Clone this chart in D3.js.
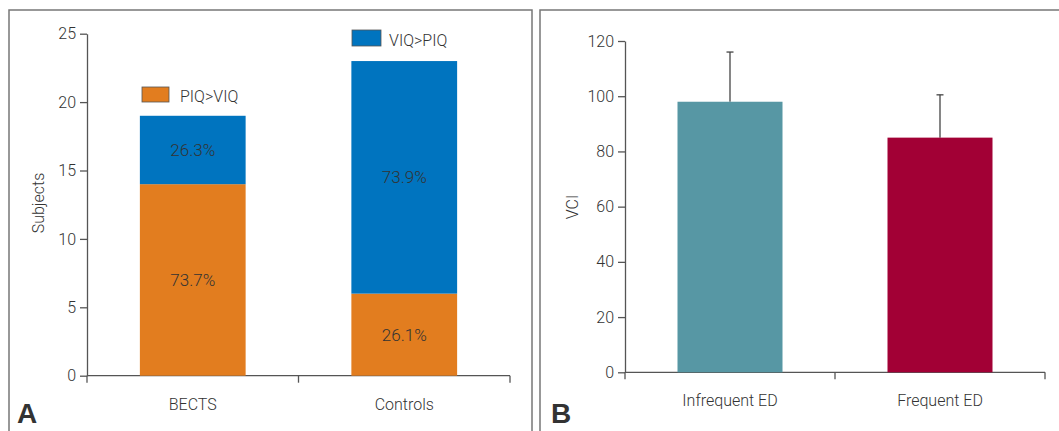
<!DOCTYPE html>
<html><head><meta charset="utf-8">
<script src="https://cdn.jsdelivr.net/npm/d3@7"></script>
<style>
body{margin:0;background:#fff;}
svg text{font-family:Roboto,"Noto Sans",sans-serif;fill:#333;font-weight:300;}
</style></head>
<body><svg id="c" width="1059" height="431"></svg>
<script>
// Panel A data
const groupsA = ["BECTS","Controls"];
const piqGtViq = [14, 6];
const viqGtPiq = [5, 17];
const pctPiq = ["73.7%","26.1%"];
const pctViq = ["26.3%","73.9%"];
const ticksA = [0,5,10,15,20,25];
// Panel B data
const groupsB = ["Infrequent ED","Frequent ED"];
const vciMean = [98, 85];
const vciErr = [18, 15.5];
const ticksB = [0,20,40,60,80,100,120];

const colOrange = "#E27D1F", colBlue = "#0074BF", colTeal = "#5797A4", colRed = "#A20035";
const axisCol = "#555";
const FONT = "Roboto,'Noto Sans',sans-serif";
const svg = d3.select("#c");

// frames
svg.append("rect").attr("x",9).attr("y",10).attr("width",523).attr("height",440)
  .attr("fill","none").attr("stroke","#777").attr("stroke-width",1.5);
svg.append("rect").attr("x",540).attr("y",10).attr("width",540).attr("height",440)
  .attr("fill","none").attr("stroke","#777").attr("stroke-width",1.5);

function styleAxis(g){
  g.selectAll("path,line").attr("stroke",axisCol).attr("stroke-width",1.3);
  g.selectAll("text").attr("fill","#333").style("font-size","16px").style("font-family",FONT).style("font-weight","300");
}

// ---- Panel A ----
const xA = d3.scaleBand().domain(groupsA).range([87,510]).paddingInner(0).paddingOuter(0);
const yA = d3.scaleLinear().domain([0,25]).range([375.7,33.7]);
const gA = svg.append("g");
const yAxA = gA.append("g").attr("transform","translate(87,0)")
  .call(d3.axisLeft(yA).tickValues(ticksA).tickSize(7).tickPadding(4).tickSizeOuter(0));
styleAxis(yAxA);
const bA = [xA.range()[0], xA(groupsA[1]), xA.range()[1]];
gA.append("line").attr("x1",bA[0]).attr("x2",bA[2]).attr("y1",yA(0)).attr("y2",yA(0))
  .attr("stroke",axisCol).attr("stroke-width",1.3);
gA.selectAll(".bt").data(bA).enter().append("line")
  .attr("x1",d=>d).attr("x2",d=>d).attr("y1",yA(0)).attr("y2",yA(0)+7)
  .attr("stroke",axisCol).attr("stroke-width",1.3);
const bwA = xA.bandwidth()/2;
groupsA.forEach((g,i)=>{
  const x0 = xA(g)+xA.bandwidth()/4;
  gA.append("rect").attr("x",x0).attr("width",bwA)
    .attr("y",yA(piqGtViq[i])).attr("height",yA(0)-yA(piqGtViq[i])).attr("fill",colOrange);
  gA.append("rect").attr("x",x0).attr("width",bwA)
    .attr("y",yA(piqGtViq[i]+viqGtPiq[i])).attr("height",yA(piqGtViq[i])-yA(piqGtViq[i]+viqGtPiq[i])).attr("fill",colBlue);
  const cx = xA(g)+xA.bandwidth()/2;
  gA.append("text").attr("x",cx).attr("y",(yA(0)+yA(piqGtViq[i]))/2+6)
    .attr("text-anchor","middle").style("font-size","17px").attr("fill","#2a2a2a").text(pctPiq[i]);
  gA.append("text").attr("x",cx).attr("y",(yA(piqGtViq[i])+yA(piqGtViq[i]+viqGtPiq[i]))/2+6)
    .attr("text-anchor","middle").style("font-size","17px").attr("fill","#2a2a2a").text(pctViq[i]);
  gA.append("text").attr("x",cx).attr("y",410).attr("text-anchor","middle")
    .style("font-size","16px").text(g);
});
// legends
gA.append("rect").attr("x",142).attr("y",87).attr("width",27).attr("height",15)
  .attr("fill",colOrange).attr("stroke","#555").attr("stroke-width",0.8);
gA.append("text").attr("x",180).attr("y",102).style("font-size","16px").text("PIQ>VIQ");
gA.append("rect").attr("x",352).attr("y",30).attr("width",29).attr("height",16)
  .attr("fill",colBlue).attr("stroke","#555").attr("stroke-width",0.8);
gA.append("text").attr("x",389).attr("y",46).style("font-size","16px").text("VIQ>PIQ");
gA.append("text").attr("transform","translate(44,203) rotate(-90)").attr("text-anchor","middle")
  .style("font-size","16px").text("Subjects");
gA.append("text").attr("x",17).attr("y",423).style("font-size","28px").style("font-weight","bold")
  .style("font-family","'Liberation Sans',Arial,sans-serif").attr("fill","#111").text("A");

// ---- Panel B ----
const xB = d3.scaleBand().domain(groupsB).range([625,1045]).paddingInner(0).paddingOuter(0);
const yB = d3.scaleLinear().domain([0,120]).range([372.3,41]);
const gB = svg.append("g");
const yAxB = gB.append("g").attr("transform","translate(625,0)")
  .call(d3.axisLeft(yB).tickValues(ticksB).tickSize(7).tickPadding(4).tickSizeOuter(0));
styleAxis(yAxB);
const bB = [xB.range()[0], xB(groupsB[1]), xB.range()[1]];
gB.append("line").attr("x1",bB[0]).attr("x2",bB[2]).attr("y1",yB(0)).attr("y2",yB(0))
  .attr("stroke",axisCol).attr("stroke-width",1.3);
gB.selectAll(".bt").data(bB).enter().append("line")
  .attr("x1",d=>d).attr("x2",d=>d).attr("y1",yB(0)).attr("y2",yB(0)+7)
  .attr("stroke",axisCol).attr("stroke-width",1.3);
const colsB = [colTeal, colRed];
groupsB.forEach((g,i)=>{
  const x0 = xB(g)+xB.bandwidth()/4, cx = xB(g)+xB.bandwidth()/2;
  gB.append("line").attr("x1",cx).attr("x2",cx).attr("y1",yB(vciMean[i])).attr("y2",yB(vciMean[i]+vciErr[i]))
    .attr("stroke","#444").attr("stroke-width",1.3);
  gB.append("line").attr("x1",cx-3.5).attr("x2",cx+3.5).attr("y1",yB(vciMean[i]+vciErr[i])).attr("y2",yB(vciMean[i]+vciErr[i]))
    .attr("stroke","#444").attr("stroke-width",1.3);
  gB.append("rect").attr("x",x0).attr("width",xB.bandwidth()/2)
    .attr("y",yB(vciMean[i])).attr("height",yB(0)-yB(vciMean[i])).attr("fill",colsB[i]);
  gB.append("text").attr("x",cx).attr("y",406).attr("text-anchor","middle")
    .style("font-size","16px").text(g);
});
gB.append("text").attr("transform","translate(578,207) rotate(-90)").attr("text-anchor","middle")
  .style("font-size","16px").text("VCI");
gB.append("text").attr("x",551).attr("y",423).style("font-size","28px").style("font-weight","bold")
  .style("font-family","'Liberation Sans',Arial,sans-serif").attr("fill","#111").text("B");
</script></body></html>
